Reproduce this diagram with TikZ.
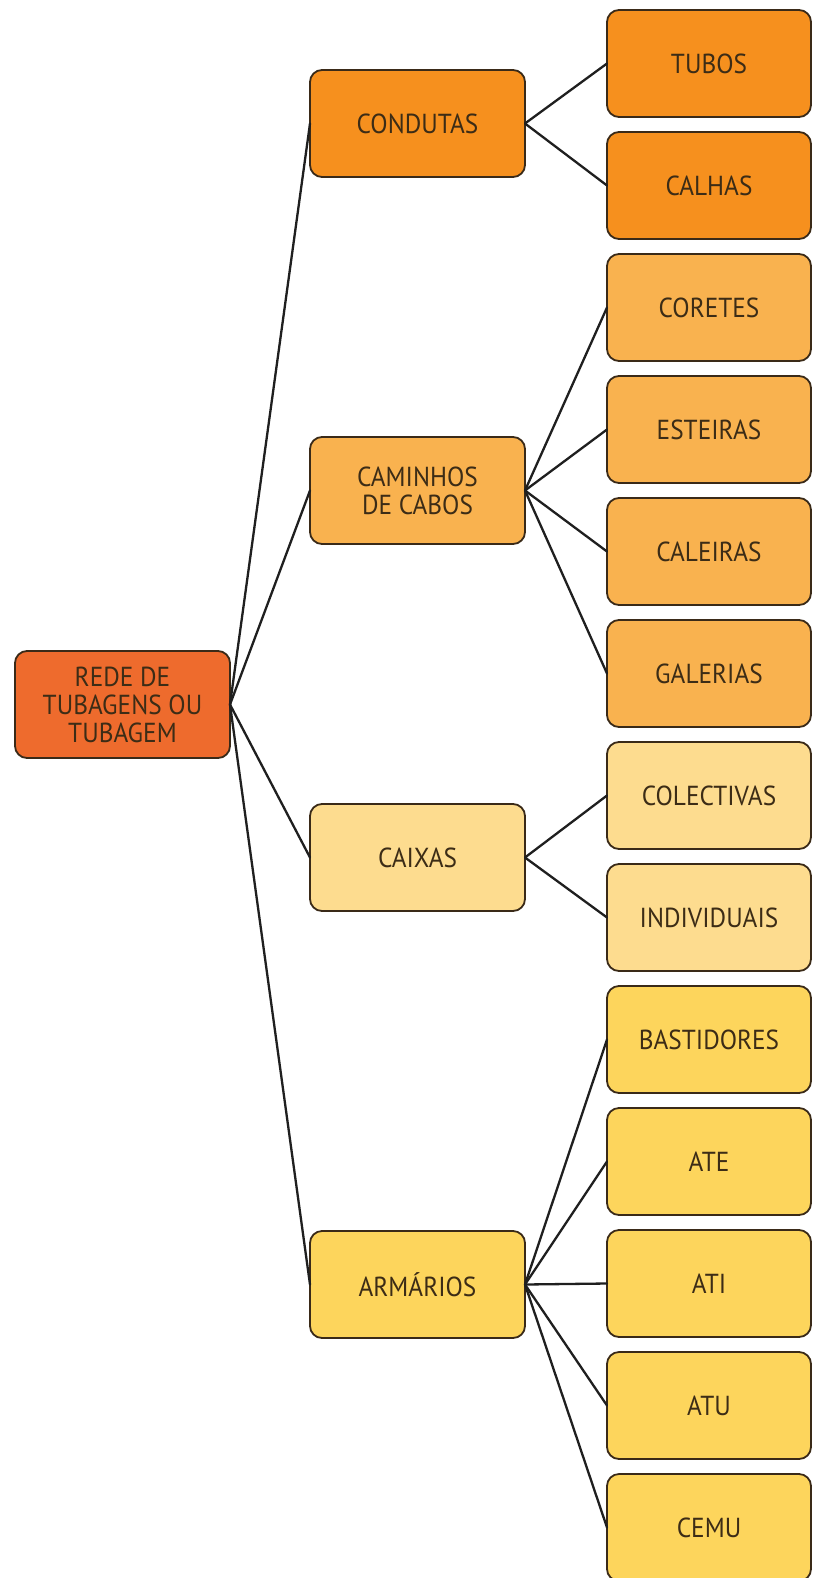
\documentclass[tikz,border=0pt]{standalone}
\usepackage{fontspec}
\setmainfont{PT Sans}[FakeStretch=0.92]
\definecolor{rootfill}{HTML}{EE6B2D}
\definecolor{condfill}{HTML}{F6901E}
\definecolor{camfill}{HTML}{F9B24F}
\definecolor{caixfill}{HTML}{FDDC8F}
\definecolor{armfill}{HTML}{FDD55C}
\definecolor{boxline}{HTML}{3A2A18}
\definecolor{txt}{HTML}{3C2C16}
\begin{document}
\begin{tikzpicture}[x=1pt,y=-1pt,
  box/.style={draw=boxline, line width=1.8pt, rounded corners=12pt,
    minimum height=107pt, inner sep=0pt, outer sep=0pt, align=center,
    text=txt, font=\fontsize{27.5}{28}\selectfont},
  hub/.style={box, minimum width=215pt},
  leaf/.style={box, minimum width=204pt},
  link/.style={draw=black!88, line width=2.3pt, line cap=round}]

\fill[white] (0,0) rectangle (813,1578);
\useasboundingbox (0,0) rectangle (813,1578);

% root
\node[hub, fill=rootfill] (root) at (122.5,704.5) {REDE DE\\TUBAGENS OU\\TUBAGEM};

% first level
\node[hub, fill=condfill] (cond) at (417.5,123.5) {CONDUTAS};
\node[hub, fill=camfill] (cam) at (417.5,490.5) {CAMINHOS\\DE CABOS};
\node[hub, fill=caixfill] (caix) at (417.5,857.5) {CAIXAS};
\node[hub, fill=armfill] (arm) at (417.5,1284.5) {ARMÁRIOS};

% leaves
\node[leaf, fill=condfill] (tubos) at (709,63.5) {TUBOS};
\node[leaf, fill=condfill] (calhas) at (709,185.5) {CALHAS};
\node[leaf, fill=camfill] (coretes) at (709,307.5) {CORETES};
\node[leaf, fill=camfill] (esteiras) at (709,429.5) {ESTEIRAS};
\node[leaf, fill=camfill] (caleiras) at (709,551.5) {CALEIRAS};
\node[leaf, fill=camfill] (galerias) at (709,673.5) {GALERIAS};
\node[leaf, fill=caixfill] (colect) at (709,795.5) {COLECTIVAS};
\node[leaf, fill=caixfill] (indiv) at (709,917.5) {INDIVIDUAIS};
\node[leaf, fill=armfill] (bast) at (709,1039.5) {BASTIDORES};
\node[leaf, fill=armfill] (ate) at (709,1161.5) {ATE};
\node[leaf, fill=armfill] (ati) at (709,1283.5) {ATI};
\node[leaf, fill=armfill] (atu) at (709,1405.5) {ATU};
\node[leaf, fill=armfill] (cemu) at (709,1527.5) {CEMU};

% connectors
\foreach \h in {cond,cam,caix,arm}
  \draw[link] (root.east) -- (\h.west);
\foreach \l in {tubos,calhas}
  \draw[link] (cond.east) -- (\l.west);
\foreach \l in {coretes,esteiras,caleiras,galerias}
  \draw[link] (cam.east) -- (\l.west);
\foreach \l in {colect,indiv}
  \draw[link] (caix.east) -- (\l.west);
\foreach \l in {bast,ate,ati,atu,cemu}
  \draw[link] (arm.east) -- (\l.west);
\end{tikzpicture}
\end{document}
